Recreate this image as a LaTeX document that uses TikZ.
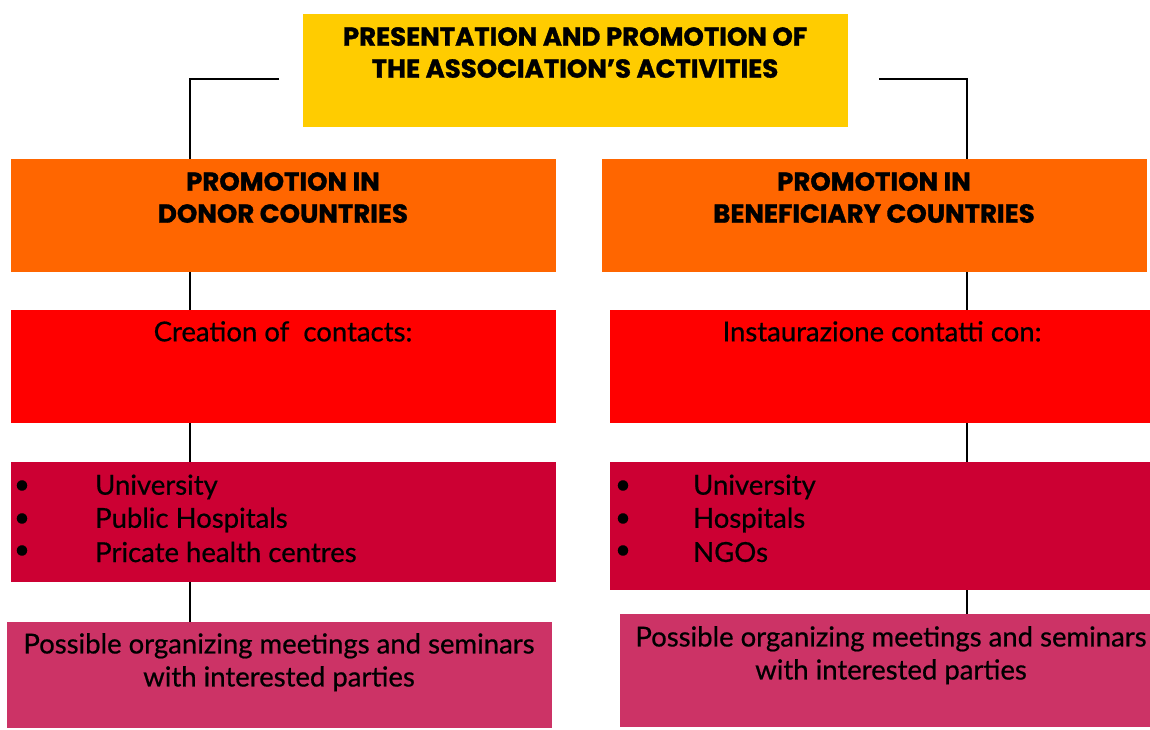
\documentclass[tikz,border=0pt]{standalone}
\usepackage{fontspec}
\setmainfont{Lato}[UprightFeatures={FakeBold=0.6}]
\newfontfamily\headfont{Poppins}[UprightFont=*-Bold, UprightFeatures={FakeBold=1.2}]
\usetikzlibrary{positioning,calc}
\definecolor{cyellow}{HTML}{FFCC00}
\definecolor{corange}{HTML}{FF6600}
\definecolor{cred}{HTML}{FF0000}
\definecolor{ccrimson}{HTML}{CC0033}
\definecolor{cpink}{HTML}{CC3366}
\tikzset{
  boxrect/.style={inner sep=0pt, outer sep=0pt},
  headtxt/.style={font=\headfont\fontsize{26}{32}\selectfont, align=center, anchor=north, inner sep=0pt},
  bodytxt/.style={font=\fontsize{27.5}{33}\selectfont, align=center, anchor=north, inner sep=0pt},
  itemtxt/.style={font=\fontsize{27.5}{33}\selectfont, anchor=west, inner sep=0pt},
  bullettxt/.style={font=\fontsize{27.5}{33}\selectfont, anchor=center, inner sep=0pt},
  conn/.style={draw=black, line width=2.2pt}
}
\newcommand{\boxat}[6]{% name, x1, y1, x2, y2, colour
  \node[boxrect, fill=#6, minimum width={#4-#2}, minimum height={#5-#3}] (#1) at ({(#2+#4)/2},{(#3+#5)/2}) {};}
\begin{document}
\begin{tikzpicture}[x=1pt,y=-1pt]
\useasboundingbox (0,0) rectangle (1150,729);
\fill[white] (0,0) rectangle (1150,729);
% boxes
\boxat{top}{303}{14}{848}{127}{cyellow}
\boxat{oL}{11}{159}{556}{272}{corange}
\boxat{oR}{602}{159}{1147}{272}{corange}
\boxat{rL}{11}{310}{556}{423}{cred}
\boxat{rR}{610}{310}{1150}{423}{cred}
\boxat{cL}{11}{462}{556}{582}{ccrimson}
\boxat{cR}{610}{462}{1150}{590}{ccrimson}
\boxat{pL}{7}{622}{552}{728}{cpink}
\boxat{pR}{620}{614}{1150}{727}{cpink}
% column coordinates
\coordinate (xl) at (190,0);
\coordinate (xr) at (967,0);
\coordinate (tl) at (279,79);
\coordinate (tr) at (879,79);
% connectors
\draw[conn] (tl) -| (oL.north -| xl);
\draw[conn] (tr) -| (oR.north -| xr);
\draw[conn] (oL.south -| xl) -- (rL.north -| xl);
\draw[conn] (rL.south -| xl) -- (cL.north -| xl);
\draw[conn] (cL.south -| xl) -- (pL.north -| xl);
\draw[conn] (oR.south -| xr) -- (rR.north -| xr);
\draw[conn] (rR.south -| xr) -- (cR.north -| xr);
\draw[conn] (cR.south -| xr) -- (pR.north -| xr);
% texts
\node[headtxt] (ttop) at (575,27) {PRESENTATION AND PROMOTION OF\\THE ASSOCIATION’S ACTIVITIES};
\node[headtxt] (toL) at (283,172) {PROMOTION IN\\DONOR COUNTRIES};
\node[headtxt] (toR) at (874,172) {PROMOTION IN\\BENEFICIARY COUNTRIES};
\node[bodytxt] (trL) at (283,321) {Creation of\ \ contacts:};
\node[bodytxt] (trR) at (882,321) {Instaurazione contatti con:};
\foreach \yy/\tt [count=\i] in {487/University,520/Public Hospitals,552/Pricate health centres}{
  \node[bullettxt] (bL\i) at (22,\yy) {\textbullet};
  \node[itemtxt] (iL\i) at (95,\yy) {\tt};
}
\foreach \yy/\tt [count=\i] in {487/University,520/Hospitals,552/NGOs}{
  \node[bullettxt] (bR\i) at (623,\yy) {\textbullet};
  \node[itemtxt] (iR\i) at (693,\yy) {\tt};
}
\node[bodytxt] (tpL) at (279,633) {Possible organizing meetings and seminars\\with interested parties};
\node[bodytxt] (tpR) at (891,626) {Possible organizing meetings and seminars\\with interested parties};
\end{tikzpicture}
\end{document}
